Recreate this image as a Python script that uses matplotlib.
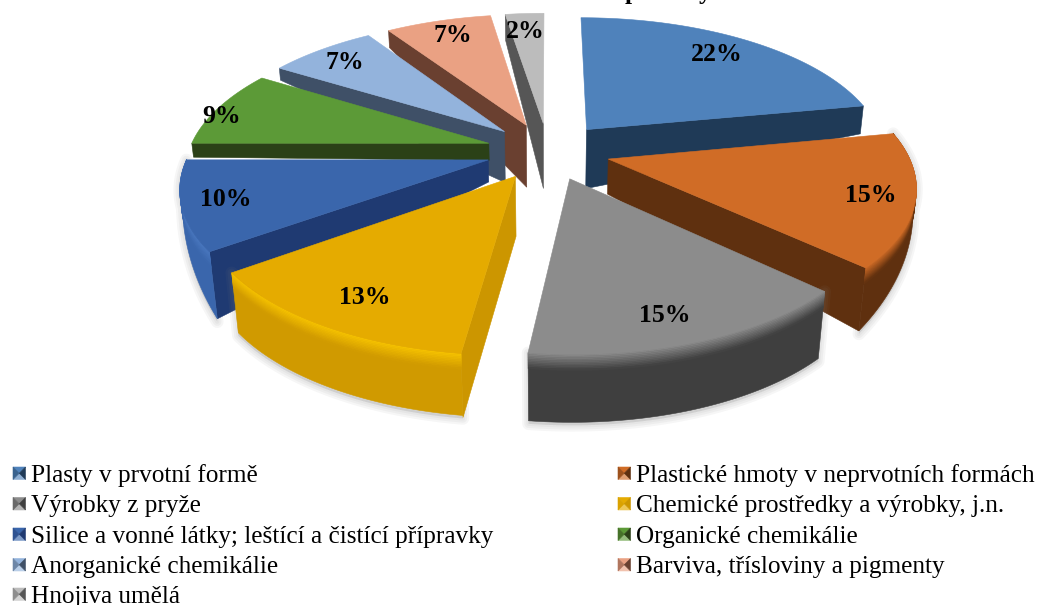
import numpy as np
import matplotlib
matplotlib.use("Agg")
import matplotlib.pyplot as plt
from matplotlib.patches import Polygon

labels = ["Plasty v prvotní formě", "Plastické hmoty v neprvotních formách",
          "Výrobky z pryže", "Chemické prostředky a výrobky, j.n.",
          "Silice a vonné látky; leštící a čistící přípravky", "Organické chemikálie",
          "Anorganické chemikálie", "Barviva, třísloviny a pigmenty",
          "Hnojiva umělá"]
# shares, the chart prints them rounded
values = [22, 15, 15, 13, 10, 8.8, 6.9, 6.8, 2.49]

# colours per slice: top surface, side, rim highlight
top_col = ["#4f82bb", "#d06c26", "#8c8c8c", "#e5ab00", "#3a66ac", "#5c9a37", "#93b3dc", "#eaa183", "#bcbcbc"]
side_col = ["#1f3a57", "#5f300f", "#3f3f3f", "#cc9600", "#1f3a72", "#2b4117", "#3f5067", "#6a4030", "#565656"]
arc_col = ["#1f3a57", "#5f300f", "#3f3f3f", "#d09a00", "#3a66ac", "#2b4117", "#3f5067", "#6a4030", "#565656"]
rim_col = ["#4f82bb", "#d06c26", "#8c8c8c", "#f8c400", "#4a78c0", "#5c9a37", "#93b3dc", "#eaa183", "#bcbcbc"]

# perspective of the pie plane, in pixels
cx, cy, R, K, persp, explode = 548, 151, 300, 138, 0.173, 0.207

# which radial wall shows, and wall / outer rim heights (the source chart is uneven)
face_edge = ["end", "end", None, "start", "start", "start", "start", "start", "start"]
face_depth = [(59, 28), (35, 63), None, (60, 64), (22, 67), (17, 14), (51, 12), (62, 17), (65, 26)]
arc_depth = [(0, 0), (0, 63), (67, 68), (62, 60), (67, 0), (0, 0), (0, 0), (0, 0), (0, 0)]
slice_r = [1, 0.995, 0.98, 1, 0.995, 1, 1, 1, 1]
label_r = [0.82, 0.85, 0.80, 0.81, 0.86, 0.97, 0.86, 0.87, 0.83]
label_nudge = [(-4, 0), (2, 2), (-6, 8), (0, 4), (1, 0), (-5, 8), (0, 2), (4, 3), (-2, 2)]
draw_order = [8, 7, 6, 5, 4, 0, 1, 3, 2]
bevel_px = 16


def project(X, Y):
    w = 1 + persp * Y
    return cx + R * X / w, cy - K * Y / w


def surface(mid, theta, r=1.0):
    X = explode * np.sin(mid) + r * np.sin(theta)
    Y = explode * np.cos(mid) + r * np.cos(theta)
    return project(X, Y)


def drop(x, y, depth):
    # lower plane is a touch narrower than the top one
    return x - (x - cx) * 0.00035 * depth, y + depth


def mix(c1, c2, t):
    a, b = np.array(matplotlib.colors.to_rgb(c1)), np.array(matplotlib.colors.to_rgb(c2))
    return tuple(a + (b - a) * t)


fig = plt.figure(figsize=(10.4, 6.05), dpi=100)
ax = fig.add_axes([0, 0, 1, 1])
ax.set_xlim(0, 1040)
ax.set_ylim(605, 0)
ax.axis("off")


def poly(points, color, z):
    ax.add_patch(Polygon(points, closed=True, facecolor=color, edgecolor=color, lw=0.4, zorder=z))


edges = np.radians(np.cumsum([0] + values) * 360 / sum(values))
for z, i in enumerate(draw_order):
    t0, t1 = edges[i], edges[i + 1]
    mid = (t0 + t1) / 2
    base = z * 10 + 5
    thetas = np.linspace(t0, t1, 60)
    xs, ys = surface(mid, thetas, slice_r[i])
    ax_x, ax_y = surface(mid, mid, 0)
    depths = np.linspace(arc_depth[i][0], arc_depth[i][1], 60)
    bx, by = drop(xs, ys, depths)

    # soft shadow under the slice
    if max(arc_depth[i]) > 0:
        shadow = list(zip(bx, by + 3)) + list(zip(xs[::-1], ys[::-1]))
        for lw in (9, 6, 3):
            ax.add_patch(Polygon(shadow, closed=True, facecolor="#808080", edgecolor="#808080",
                                 lw=lw, alpha=0.07, zorder=base, joinstyle="round"))

    # radial wall
    if face_edge[i]:
        t = t0 if face_edge[i] == "start" else t1
        ex, ey = surface(mid, t, slice_r[i])
        d_in, d_out = face_depth[i]
        poly([(ax_x, ax_y), (ex, ey), drop(ex, ey, d_out), drop(ax_x, ax_y, d_in)], side_col[i], base + 1)

    # outer wall with a bevel running along the top surface edge
    if max(arc_depth[i]) > 0:
        poly(list(zip(xs, ys)) + list(zip(bx[::-1], by[::-1])), arc_col[i], base + 2)
        steps = 10
        for k in range(steps):
            d0 = np.minimum(depths, bevel_px * k / steps)
            d1 = np.minimum(depths, bevel_px * (k + 1) / steps)
            x0, y0 = drop(xs, ys, d0)
            x1, y1 = drop(xs, ys, d1)
            poly(list(zip(x0, y0)) + list(zip(x1[::-1], y1[::-1])),
                 mix(rim_col[i], arc_col[i], (k + 0.5) / steps), base + 3)

    # top surface
    poly([(ax_x, ax_y)] + list(zip(xs, ys)), top_col[i], base + 4)

    # data label
    lx, ly = surface(mid, mid, label_r[i])
    ax.text(lx + label_nudge[i][0], ly + label_nudge[i][1], f"{values[i]:.0f}%", ha="center", va="center",
            family="Liberation Serif", fontweight="bold", fontsize=18.5, color="black", zorder=200)

# legend in two columns, keys with a pyramid look
key_x = [13, 618]
row_y = [473, 503.5, 534, 564.5, 594]
for i, name in enumerate(labels):
    col = i % 2
    y = row_y[i // 2]
    x0, x1, y0, y1 = key_x[col], key_x[col] + 12.5, y - 6, y + 6.5
    c = (x0 + x1) / 2, (y0 + y1) / 2
    poly([(x0, y0), (x1, y0), c], top_col[i], 300)
    poly([(x0, y1), (x1, y1), c], mix(top_col[i], "white", 0.35), 300)
    poly([(x0, y0), (x0, y1), c], mix(top_col[i], side_col[i], 0.45), 300)
    poly([(x1, y0), (x1, y1), c], side_col[i], 300)
    ax.text(key_x[col] + 18, y, name, ha="left", va="center_baseline", family="Liberation Serif",
            fontsize=18.2, color="black", zorder=300)

# title sits above the visible area, only two descenders reach the picture
ax.text(632, -1, "p", ha="center", va="baseline", family="Liberation Serif", fontweight="bold", fontsize=18, zorder=300)
ax.text(705, -1, "y", ha="center", va="baseline", family="Liberation Serif", fontweight="bold", fontsize=18, zorder=300)

fig.savefig("out.png", dpi=100)
